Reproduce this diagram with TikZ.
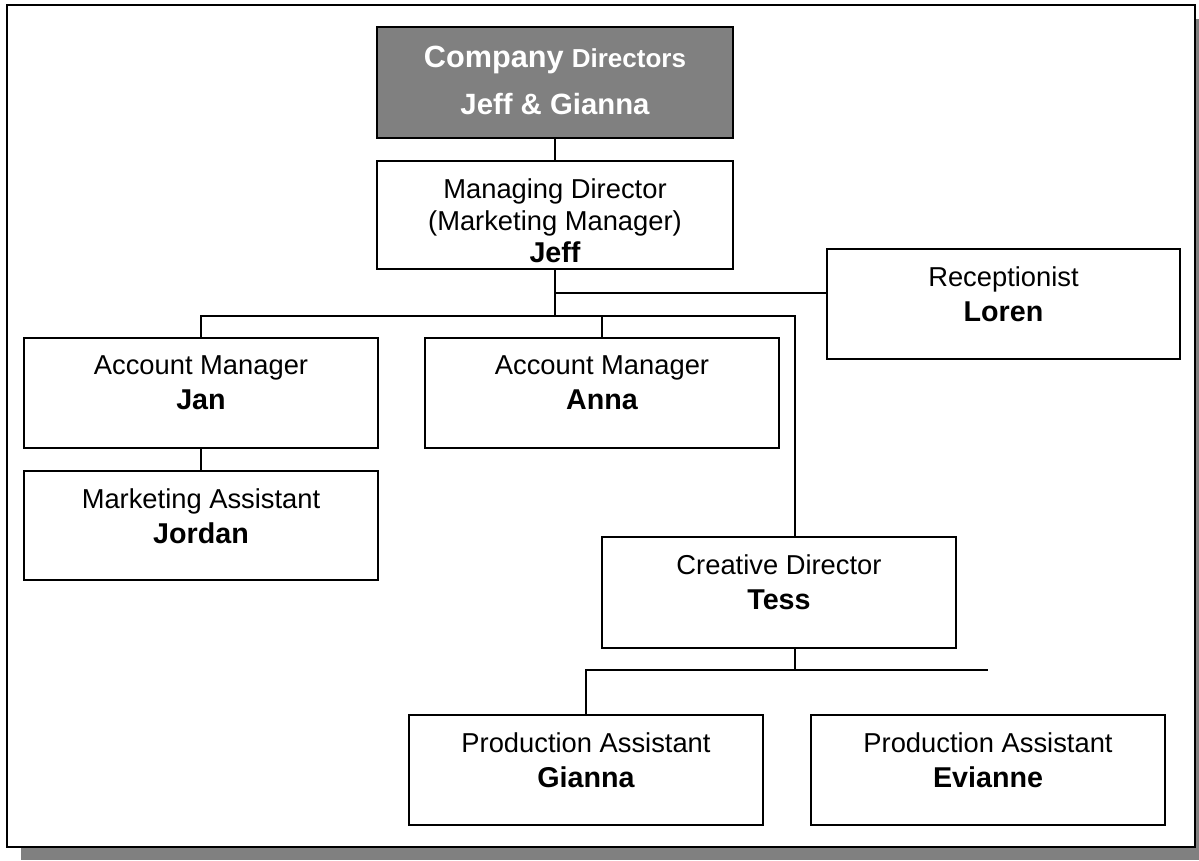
\documentclass[tikz,border=0pt]{standalone}
\usepackage{fontspec}
\setmainfont{Liberation Sans}
\usepackage{tikz}
\usepackage{xcolor}
\definecolor{boxgray}{RGB}{128,128,128}
\newcommand{\person}[1]{{\bfseries\fontsize{21.5}{26}\selectfont #1}}

\begin{document}
\begin{tikzpicture}[x=0.75pt,y=0.75pt,yscale=-1,xscale=1,
  post/.style={draw, line width=1.3pt, minimum width=265.5pt, minimum height=82.5pt, inner sep=0pt},
  role/.style={anchor=north, align=center, inner sep=0pt, font=\fontsize{20.5}{26}\selectfont},
  wire/.style={line width=1pt}]
\useasboundingbox (0,0) rectangle (1199,860);

%Shape: Rectangle (shadow and frame)
\fill[boxgray] (21,19) rectangle (1199,860);
\draw[line width=1.6pt, fill=white] (7,5) rectangle (1195,847);

%Shape: Rectangle
\node[post, fill=boxgray, minimum width=267pt, minimum height=83.25pt] (dirs) at (555,82.5) {};
\node[post, minimum width=267pt, minimum height=81pt] (md) at (555,215) {};
\node[post, minimum width=264.75pt] (recep) at (1003.5,304) {};
\node[post] (jan) at (201,393) {};
\node[post] (anna) at (602,393) {};
\node[post, minimum height=81.75pt] (jordan) at (201,525.5) {};
\node[post, minimum height=83.25pt] (tess) at (779,592.5) {};
\node[post] (gianna) at (586,770) {};
\node[post] (evianne) at (988,770) {};

% Text Node
\node[role, text=white, font=\bfseries\fontsize{22}{35}\selectfont] (dirs-t) at (555,46) {{\fontsize{23}{35}\selectfont Company} {\fontsize{19.5}{35}\selectfont Directors}\\Jeff \& Gianna};
% Text Node
\node[role, font=\fontsize{20.5}{24}\selectfont] (md-t) at (555,178) {Managing Director\\(Marketing Manager)\\\person{Jeff}};
% Text Node
\node[role] (recep-t) at (1003.5,266.5) {Receptionist\\\person{Loren}};
% Text Node
\node[role] (jan-t) at (201,355.5) {Account Manager\\\person{Jan}};
% Text Node
\node[role] (anna-t) at (602,355.5) {Account Manager\\\person{Anna}};
% Text Node
\node[role] (jordan-t) at (201,488.5) {Marketing Assistant\\\person{Jordan}};
% Text Node
\node[role] (tess-t) at (779,554.5) {Creative Director\\\person{Tess}};
% Text Node
\node[role] (gianna-t) at (586,732.5) {Production Assistant\\\person{Gianna}};
% Text Node
\node[role] (evianne-t) at (988,732.5) {Production Assistant\\\person{Evianne}};

%Straight Lines
\coordinate (rj) at (555,293);
\coordinate (tj) at (795,316);
\coordinate (tb) at (795,670);
\draw[wire] (dirs.south) -- (md.south |- md.north);
\draw[wire] (md.south) -- (md.south |- tj);
\draw[wire] (rj) -- (rj -| recep.west);
\draw[wire] (jan.north) |- (tj) -- (tj |- tess.north);
\draw[wire] (anna.north) -- (anna.north |- tj);
\draw[wire] (jan.south) -- (jordan.north);
\draw[wire] (tb |- tess.south) -- (tb);
\draw[wire] (gianna.north) |- (evianne.north |- tb);

\end{tikzpicture}
\end{document}
